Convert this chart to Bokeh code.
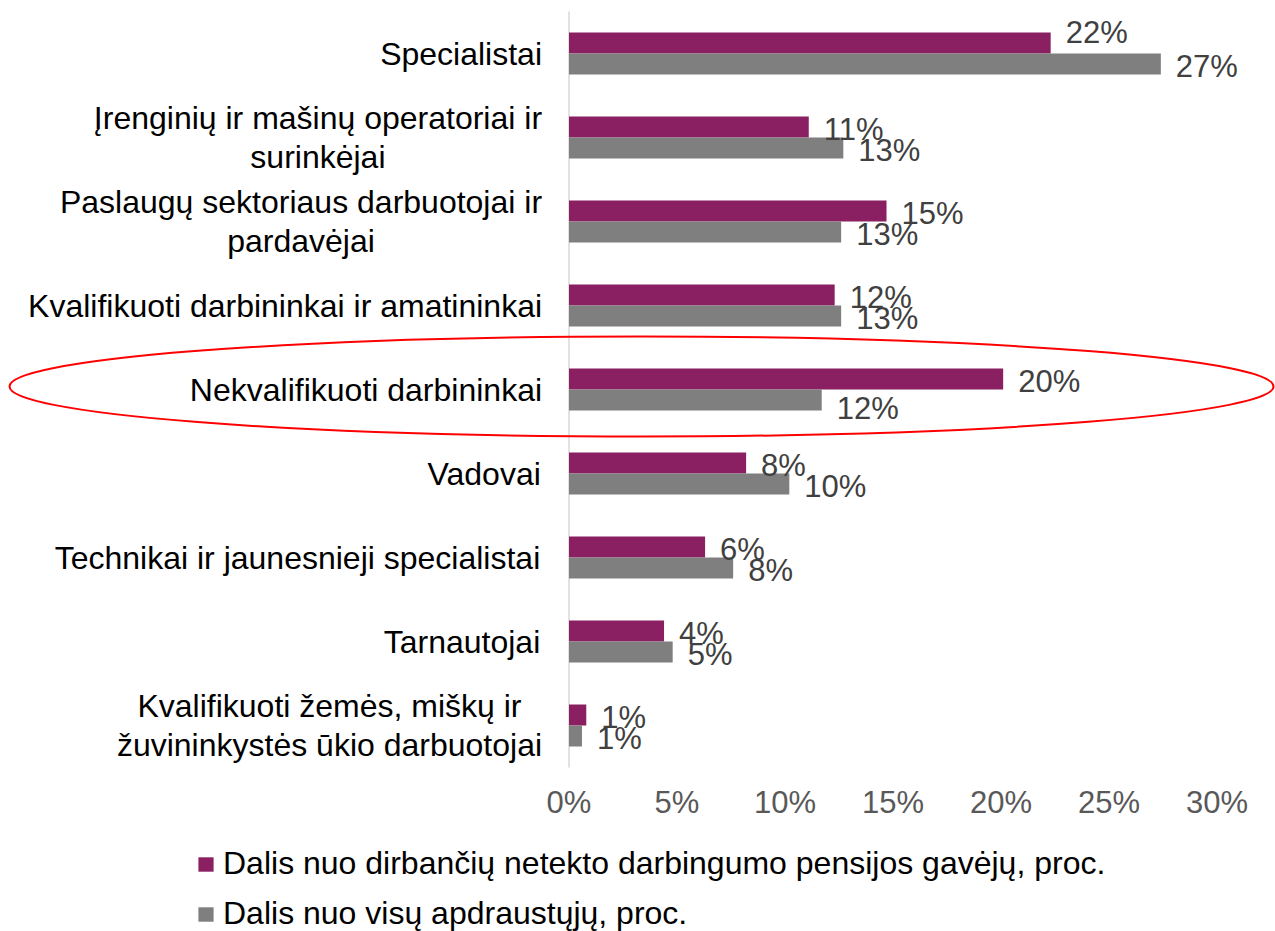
from bokeh.plotting import figure
from bokeh.layouts import column
from bokeh.models import Range1d, FixedTicker, PrintfTickFormatter, Legend, LegendItem, ColumnDataSource
from bokeh.core.properties import value
from bokeh.embed import file_html
from bokeh.resources import INLINE

# ---------------- data ----------------
categories = [
    "Specialistai",
    "Įrenginių ir mašinų operatoriai ir\nsurinkėjai",
    "Paslaugų sektoriaus darbuotojai ir\npardavėjai",
    "Kvalifikuoti darbininkai ir amatininkai",
    "Nekvalifikuoti darbininkai",
    "Vadovai",
    "Technikai ir jaunesnieji specialistai",
    "Tarnautojai",
    "Kvalifikuoti žemės, miškų ir\nžuvininkystės ūkio darbuotojai",
]
share_pension = [22.3, 11.1, 14.7, 12.3, 20.1, 8.2, 6.3, 4.4, 0.8]
share_insured = [27.4, 12.7, 12.6, 12.6, 11.7, 10.2, 7.6, 4.8, 0.6]
labels_pension = ["22%", "11%", "15%", "12%", "20%", "8%", "6%", "4%", "1%"]
labels_insured = ["27%", "13%", "13%", "13%", "12%", "10%", "8%", "5%", "1%"]
series_names = [
    "Dalis nuo dirbančių netekto darbingumo pensijos gavėjų, proc.",
    "Dalis nuo visų apdraustųjų, proc.",
]
x_ticks = [0, 5, 10, 15, 20, 25, 30]
highlight_index = 4  # "Nekvalifikuoti darbininkai"

# ---------------- style / layout ----------------
PURPLE = "#8A2061"
GRAY = "#7F7F7F"
FONT = "Liberation Sans"
CAT_FONT_PX = 32
W = 1275
H_MAIN = 835
H_LEGEND = 96
FRAME_H = 768
PX_PER_UNIT = 21.6
ZERO_PX = 568.5
CAT_PITCH = 84.0
FIRST_CENTER = 53.0
# manual vertical nudges (px) of a few data labels, as in the original
NUDGE_PENSION = {0: -13}
NUDGE_INSURED = {4: 6}

# Arial / Liberation Sans advance widths (per 1000 em) for label centring
_AW = {" ": 278, ",": 278, ".": 278, "a": 556, "b": 556, "c": 500, "d": 556, "e": 556,
       "f": 278, "g": 556, "h": 556, "i": 222, "j": 222, "k": 500, "l": 222, "m": 833,
       "n": 556, "o": 556, "p": 556, "r": 333, "s": 500, "t": 278, "u": 556, "v": 500,
       "y": 500, "z": 500, "ž": 500, "š": 500, "ė": 556, "ų": 556, "ū": 556, "į": 222,
       "č": 500, "Į": 278, "K": 667, "P": 667, "S": 667, "T": 611, "V": 667, "N": 722}


def text_width(s, px):
    return max(sum(_AW.get(ch, 556) for ch in line) for line in s.split("\n")) * px / 1000.0


n = len(categories)
idx = list(range(n))

x_start = -ZERO_PX / PX_PER_UNIT
x_end = (W - ZERO_PX) / PX_PER_UNIT
y_top = -FIRST_CENTER / CAT_PITCH
y_bottom = (FRAME_H - FIRST_CENTER) / CAT_PITCH

p = figure(frame_width=W, frame_height=FRAME_H,
           x_range=Range1d(x_start, x_end), y_range=Range1d(y_bottom, y_top),
           y_axis_type=None, output_backend="svg", toolbar_location=None,
           min_border=0, min_border_bottom=H_MAIN - FRAME_H)
p.outline_line_color = None
p.grid.visible = False
p.background_fill_color = "white"
p.border_fill_color = "white"

# x axis
ax = p.xaxis[0]
ax.ticker = FixedTicker(ticks=x_ticks)
ax.formatter = PrintfTickFormatter(format="%d%%")
ax.axis_line_color = None
ax.major_tick_line_color = None
ax.minor_tick_line_color = None
ax.major_tick_out = 0
ax.major_tick_in = 0
ax.major_label_standoff = 16
ax.major_label_text_font = FONT
ax.major_label_text_font_size = "31px"
ax.major_label_text_color = "#595959"

# vertical category axis line
p.segment(x0=[0], y0=[-0.5], x1=[0], y1=[n - 0.5], line_color="#D9D9D9", line_width=1.5)

# bars
src_p = ColumnDataSource(dict(y=[i - 0.125 for i in idx], v=share_pension, t=labels_pension,
                              yo=[2 + NUDGE_PENSION.get(i, 0) for i in idx]))
src_g = ColumnDataSource(dict(y=[i + 0.125 for i in idx], v=share_insured, t=labels_insured,
                              yo=[2 + NUDGE_INSURED.get(i, 0) for i in idx]))
p.hbar(y="y", left=0, right="v", height=0.25, source=src_p, fill_color=PURPLE, line_color=None)
p.hbar(y="y", left=0, right="v", height=0.25, source=src_g, fill_color=GRAY, line_color=None)

# data labels
for src in (src_p, src_g):
    p.text(x="v", y="y", text="t", source=src, x_offset=15, y_offset="yo",
           text_align="left", text_baseline="middle",
           text_font=value(FONT), text_font_size="31px", text_color="#404040")

# category labels (centred block, right edge at fixed gap from axis)
cat_src = ColumnDataSource(dict(
    x=[0] * n, y=idx, t=categories,
    xo=[-27 - text_width(c, CAT_FONT_PX) / 2.0 for c in categories]))
p.text(x="x", y="y", text="t", x_offset="xo", source=cat_src,
       text_align="center", text_baseline="middle", text_line_height=1.06,
       text_font=value(FONT), text_font_size=f"{CAT_FONT_PX}px", text_color="#000000")

# highlight ellipse
ell_cx = (641 - ZERO_PX) / PX_PER_UNIT
p.ellipse(x=[ell_cx], y=[highlight_index - 0.036], width=1264, height=100,
          width_units="screen", height_units="screen",
          fill_color=None, line_color="#FF0000", line_width=2)

# ---------------- legend strip ----------------
p2 = figure(frame_width=W, frame_height=H_LEGEND, x_range=Range1d(0, 1), y_range=Range1d(0, 1),
            x_axis_type=None, y_axis_type=None, output_backend="svg", toolbar_location=None,
            min_border=0)
p2.outline_line_color = None
p2.grid.visible = False
p2.background_fill_color = "white"
p2.border_fill_color = "white"
# swatch-only renderers (kept outside the visible range)
lr1 = p2.hbar(y=[-5], left=[0], right=[0.1], height=0.1, fill_color=PURPLE, line_color=None)
lr2 = p2.hbar(y=[-5], left=[0], right=[0.1], height=0.1, fill_color=GRAY, line_color=None)
legend = Legend(items=[LegendItem(label=series_names[0], renderers=[lr1]),
                       LegendItem(label=series_names[1], renderers=[lr2])],
                location=(196, -1), orientation="vertical",
                label_text_font=FONT, label_text_font_size="32px", label_text_color="#000000",
                glyph_width=19, glyph_height=18, label_standoff=8, spacing=13,
                padding=0, margin=0, border_line_color=None, background_fill_alpha=0)
p2.add_layout(legend, "center")

layout = column(p, p2, spacing=0)
open("out.html", "w").write(file_html(layout, INLINE))
